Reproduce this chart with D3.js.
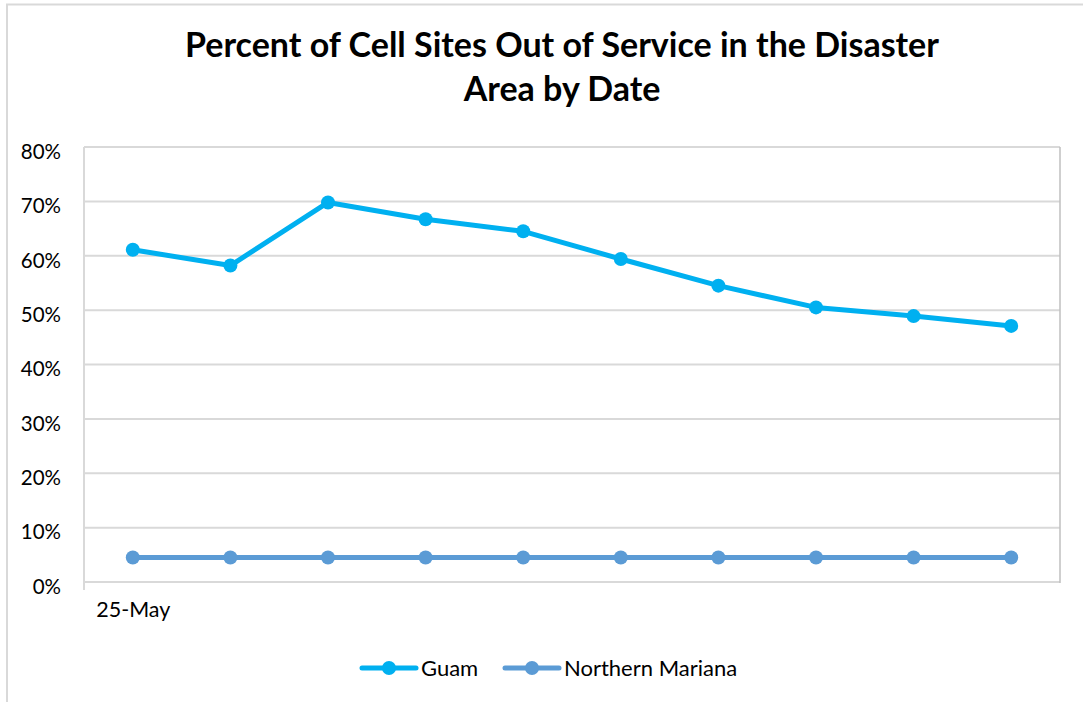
<!DOCTYPE html>
<html>
<head>
<meta charset="utf-8">
<script src="https://d3js.org/d3.v7.min.js"></script>
<style>
  body { margin: 0; background: #fff; }
  text { font-family: Lato, "Open Sans", sans-serif; }
</style>
</head>
<body>
<div id="chart"></div>
<script>
// chart data
const dates = ["25-May", "26-May", "27-May", "28-May", "29-May", "30-May", "31-May", "1-Jun", "2-Jun", "3-Jun"];
const guam = [0.611, 0.582, 0.698, 0.667, 0.645, 0.594, 0.545, 0.505, 0.489, 0.471];
const northernMariana = [0.045, 0.045, 0.045, 0.045, 0.045, 0.045, 0.045, 0.045, 0.045, 0.045];
const yTicks = [0, 0.1, 0.2, 0.3, 0.4, 0.5, 0.6, 0.7, 0.8];
const titleLines = ["Percent of Cell Sites Out of Service in the Disaster", "Area by Date"];

const series = [
    {name: "Guam", values: guam, color: "#00b0f0"},
    {name: "Northern Mariana", values: northernMariana, color: "#5b9bd5"}
];

const W = 1083, H = 702;
const margin = {top: 147, right: 23, bottom: 120, left: 84},
      width = W - margin.left - margin.right,
      height = H - margin.top - margin.bottom;

const svg = d3.select("#chart").append("svg")
    .attr("width", W)
    .attr("height", H);

// outer chart border
svg.append("path")
    .attr("d", `M7,${H} V4.5 H${W}`)
    .attr("fill", "none")
    .attr("stroke", "#d9d9d9")
    .attr("stroke-width", 2);

// title
svg.append("g").selectAll("text")
    .data(titleLines)
    .join("text")
    .attr("x", 562)
    .attr("y", (d, i) => 57 + i * 44)
    .attr("text-anchor", "middle")
    .style("font-size", "34px")
    .style("font-weight", "bold")
    .text(d => d);

const g = svg.append("g")
    .attr("transform", "translate(" + margin.left + "," + margin.top + ")");

const x = d3.scalePoint()
    .domain(dates)
    .range([0, width])
    .padding(0.5);

const y = d3.scaleLinear()
    .domain([0, 0.8])
    .range([height, 0]);

// gridlines
g.append("g")
    .selectAll("line")
    .data(yTicks)
    .join("line")
    .attr("x1", 0)
    .attr("x2", width)
    .attr("y1", d => y(d))
    .attr("y2", d => y(d))
    .attr("stroke", "#d9d9d9")
    .attr("stroke-width", 2);

// plot frame: left axis line (extends a bit below), right edge
g.append("line")
    .attr("x1", 0).attr("x2", 0)
    .attr("y1", 0).attr("y2", height + 8)
    .attr("stroke", "#d9d9d9")
    .attr("stroke-width", 2);
g.append("line")
    .attr("x1", width).attr("x2", width)
    .attr("y1", 0).attr("y2", height + 1)
    .attr("stroke", "#bfbfbf")
    .attr("stroke-width", 1.5);

// y axis labels
const yAxis = g.append("g")
    .call(d3.axisLeft(y).tickValues(yTicks).tickFormat(d3.format(".0%")).tickSize(0).tickPadding(23));
yAxis.select(".domain").remove();
yAxis.selectAll("text")
    .attr("y", 0)
    .attr("dy", "0.55em")
    .style("font-size", "20.5px")
    .style("fill", "#000");

// x axis labels (only the first date is shown in the original)
const xAxis = g.append("g")
    .attr("transform", "translate(0," + height + ")")
    .call(d3.axisBottom(x).tickSize(0).tickPadding(20).tickFormat((d, i) => i === 0 ? d : ""));
xAxis.select(".domain").remove();
xAxis.selectAll("text")
    .style("font-size", "21.5px")
    .style("fill", "#000");

// lines and markers
const line = d3.line()
    .x((d, i) => x(dates[i]))
    .y(d => y(d));

series.forEach(s => {
    g.append("path")
        .datum(s.values)
        .attr("d", line)
        .attr("fill", "none")
        .attr("stroke", s.color)
        .attr("stroke-width", 5)
        .attr("stroke-linejoin", "round");
    g.append("g")
        .selectAll("circle")
        .data(s.values)
        .join("circle")
        .attr("cx", (d, i) => x(dates[i]))
        .attr("cy", d => y(d))
        .attr("r", 7)
        .attr("fill", s.color);
});

// legend
const legendX = [362, 505];
const legend = svg.append("g")
    .attr("transform", "translate(0,668)");
series.forEach((s, i) => {
    const lg = legend.append("g").attr("transform", `translate(${legendX[i]},0)`);
    lg.append("line")
        .attr("x1", 0).attr("x2", 54)
        .attr("y1", 0).attr("y2", 0)
        .attr("stroke", s.color)
        .attr("stroke-width", 5)
        .attr("stroke-linecap", "round");
    lg.append("circle")
        .attr("cx", 27).attr("cy", 0).attr("r", 7)
        .attr("fill", s.color);
    lg.append("text")
        .attr("x", 59)
        .attr("y", 0)
        .attr("dy", "0.35em")
        .style("font-size", "22px")
        .text(s.name);
});
</script>
</body>
</html>
